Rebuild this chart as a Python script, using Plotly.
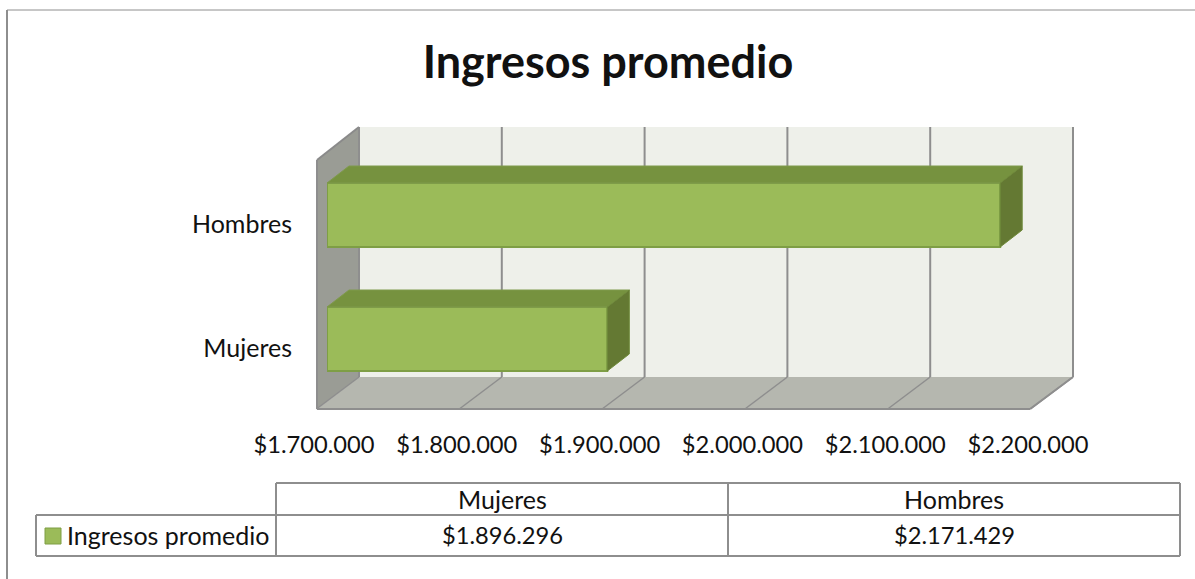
import plotly.graph_objects as go

W, H = 1195, 579

# data
categories = ["Mujeres", "Hombres"]
ingresos = [1896296, 2171429]
x_ticks = [1700000, 1800000, 1900000, 2000000, 2100000, 2200000]
series_name = "Ingresos promedio"
chart_title = "Ingresos promedio"

# colours
FACE = "#9BBB59"
FACE_LINE = "#7E9E45"
TOP = "#76923F"
SIDE = "#647933"
BACK_WALL = "#EEF0EA"
SIDE_WALL = "#9A9C95"
FLOOR = "#B5B7AF"
GRID = "#8E8E8E"
FONT = "Lato"
TEXT_SIZE = 25
NUM_SIZE = 23.7

# front plane of the bars, in pixels
X0, X1 = 327, 1041
Y_BOTTOM, Y_TOP = 401, 153
px_per_val = (X1 - X0) / (x_ticks[-1] - x_ticks[0])
px_per_cat = (Y_BOTTOM - Y_TOP) / 2
DEPTH_X, DEPTH_Y = 22, 17
BAR_WIDTH = 0.516


def px(x):
    return x / W


def py(y):
    return 1 - y / H


def poly(points):
    coords = [f"{px(x):.5f},{py(y):.5f}" for x, y in points]
    return "M" + " L".join(coords) + " Z"


def wall(points, fill):
    return dict(type="path", xref="paper", yref="paper", path=poly(points),
                fillcolor=fill, line=dict(width=0), layer="below")


def line(x0, y0, x1, y1, color=GRID, width=2, layer="below"):
    return dict(type="line", xref="paper", yref="paper",
                x0=px(x0), y0=py(y0), x1=px(x1), y1=py(y1),
                line=dict(color=color, width=width), layer=layer)


def label(x, y, text, size=TEXT_SIZE, xanchor="center"):
    return dict(xref="paper", yref="paper", x=px(x), y=py(y), text=text,
                showarrow=False, xanchor=xanchor, yanchor="middle",
                font=dict(family=FONT, size=size, color="#111111"))


def money(v):
    return "$" + f"{v:,}".replace(",", ".")


dx = DEPTH_X / px_per_val
dy = DEPTH_Y / px_per_cat
half = BAR_WIDTH / 2
base = x_ticks[0]
y_pos = list(range(len(categories)))

fig = go.Figure()

# 3D faces of the bars, worked out from the values
for i, v in zip(y_pos, ingresos):
    fig.add_scatter(
        x=[base, v, v + dx, base + dx, base],
        y=[i + half, i + half, i + half + dy, i + half + dy, i + half],
        mode="lines", fill="toself", fillcolor=TOP,
        line=dict(color="#7F9A4C", width=1), hoverinfo="skip", showlegend=False,
    )
    fig.add_scatter(
        x=[v, v + dx, v + dx, v, v],
        y=[i + half, i + half + dy, i - half + dy, i - half, i + half],
        mode="lines", fill="toself", fillcolor=SIDE,
        line=dict(color="#6F8A3A", width=1), hoverinfo="skip", showlegend=False,
    )

fig.add_bar(
    x=[v - base for v in ingresos],
    y=y_pos,
    base=base,
    orientation="h",
    width=BAR_WIDTH,
    name=series_name,
    marker=dict(color=FACE, line=dict(color=FACE_LINE, width=2)),
    showlegend=False,
)

# walls and floor
shapes = [
    wall([(359, 127), (1073, 127), (1073, 377), (359, 377)], BACK_WALL),
    wall([(317, 160), (359, 127), (359, 377), (317, 409)], SIDE_WALL),
    wall([(317, 409), (359, 377), (1073, 377), (1030, 409)], FLOOR),
]

# gridlines run up the back wall and across the floor
for t in x_ticks:
    back_x = X0 + (t - base) * px_per_val + 32
    front_x = back_x - 42.5
    shapes.append(line(back_x, 127, back_x, 377))
    shapes.append(line(front_x, 409, back_x, 377, width=1.5))
shapes += [
    line(317, 160, 359, 127, color="#8A8A8A"),
    line(317, 160, 317, 409),
    line(317, 409, 1030, 409),
    line(1030, 409, 1073, 377),
]

# outer border
shapes += [
    line(7, 10, W, 10, width=1),
    line(7, 10, 7, H, width=2),
]

# data table
shapes += [
    line(276, 483, 1180, 483),
    line(36, 515, 1180, 515),
    line(36, 556, 1180, 556),
    line(36, 515, 36, 556),
    line(276, 483, 276, 556),
    line(728, 483, 728, 556),
    line(1180, 483, 1180, 556),
    dict(type="rect", xref="paper", yref="paper", x0=px(45), x1=px(61),
         y0=py(544), y1=py(528), fillcolor=FACE,
         line=dict(color=FACE_LINE, width=1)),
]

annotations = [label(65, 535, series_name, xanchor="left")]
for cx, cat, v in zip([502, 954], categories, ingresos):
    annotations.append(label(cx, 499, cat))
    annotations.append(label(cx, 535, money(v), size=NUM_SIZE))

fig.update_layout(
    width=W,
    height=H,
    autosize=False,
    margin=dict(l=0, r=0, t=0, b=0),
    paper_bgcolor="white",
    plot_bgcolor="rgba(0,0,0,0)",
    title=dict(
        text=f"<b>{chart_title}</b>",
        x=608 / W, xanchor="center",
        y=py(62), yanchor="middle",
        automargin=False,
        font=dict(family=FONT, size=45, color="#111111"),
    ),
    shapes=shapes,
    annotations=annotations,
    showlegend=False,
)

fig.update_xaxes(
    domain=[px(X0), px(X1)],
    range=[x_ticks[0], x_ticks[-1]],
    tickmode="array",
    tickvals=x_ticks,
    ticktext=[money(t) for t in x_ticks],
    tickfont=dict(family=FONT, size=NUM_SIZE, color="#111111"),
    ticklabelshift=-13,
    ticklabelstandoff=27,
    automargin=False,
    showgrid=False,
    zeroline=False,
    showline=False,
    ticks="",
)
fig.update_yaxes(
    domain=[py(Y_BOTTOM), py(Y_TOP)],
    range=[-0.5, 1.5],
    tickmode="array",
    tickvals=y_pos,
    ticktext=categories,
    tickfont=dict(family=FONT, size=TEXT_SIZE, color="#111111"),
    ticklabelshift=9,
    ticklabelstandoff=34,
    automargin=False,
    showgrid=False,
    zeroline=False,
    showline=False,
    ticks="",
)

# the page's default body margin would push everything 8px in
fig.write_html(
    "out.html",
    config={"displayModeBar": False},
    post_script="document.body.style.margin = '0';",
)
